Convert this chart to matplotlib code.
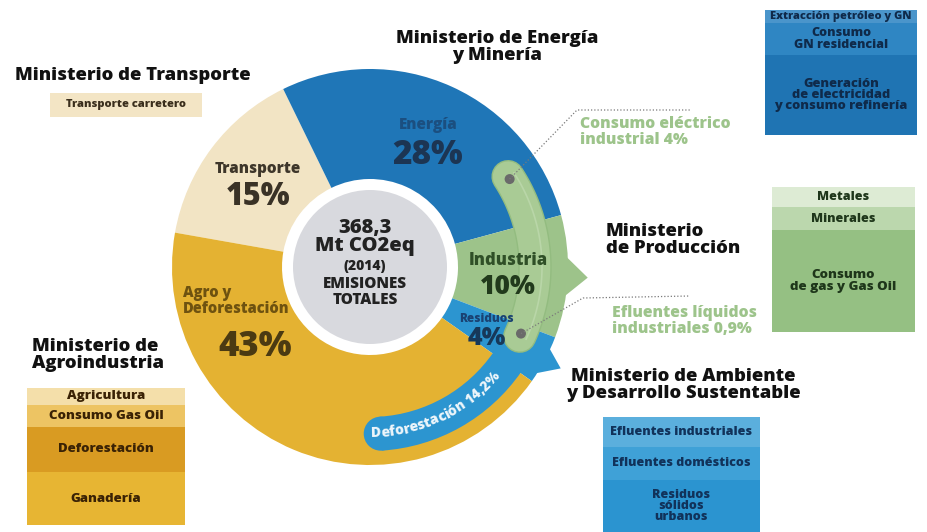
import matplotlib
matplotlib.use("Agg")
import matplotlib.pyplot as plt
import numpy as np
from matplotlib.patches import Circle, Polygon, Rectangle, Wedge
from matplotlib.font_manager import FontProperties

FONT = "Open Sans"
BW = 'heavy'
plt.rcParams['font.family'] = [FONT, 'DejaVu Sans']

# ---------------- data ----------------
sectors = ["Transporte", "Energía", "Industria", "Residuos", "Agro y\nDeforestación"]
shares = [15, 28, 10, 4, 43]
total_emissions = "368,3"
total_unit = "Mt CO2eq"
year = "(2014)"
deforestation_share = 14.2
consumo_electrico_industrial = 4
efluentes_liquidos_industriales = 0.9

ministries = ["Ministerio de Transporte", "Ministerio de Energía\ny Minería",
              "Ministerio\nde Producción", "Ministerio de Ambiente\ny Desarrollo Sustentable",
              "Ministerio de\nAgroindustria"]
transport_items = ["Transporte carretero"]
energy_items = ["Extracción petróleo y GN", "Consumo\nGN residencial",
                "Generación\nde electricidad\ny consumo refinería"]
production_items = ["Metales", "Minerales", "Consumo\nde gas y Gas Oil"]
agro_items = ["Agricultura", "Consumo Gas Oil", "Deforestación", "Ganadería"]
ambiente_items = ["Efluentes industriales", "Efluentes domésticos", "Residuos\nsólidos\nurbanos"]

# ---------------- styles ----------------
sector_colors = ['#F2E4C4', '#1F76B7', '#9DC38A', '#2C95D0', '#E4B232']
name_colors = ['#3E362A', '#1B4F80', '#2F4F27', '#1A4272', '#6E5210']
pct_colors = ['#3A3226', '#1C3553', '#213A1C', '#173859', '#4B3A12']

W, H = 927, 532
def Y(y):
    return H - y

fig = plt.figure(figsize=(W / 100, H / 100), dpi=100)
ax = fig.add_axes([0, 0, 1, 1])

CX, CY = 370, Y(267)
R_OUT, R_IN = 198, 88
START = 170

def pol(r, a_deg):
    a = np.radians(a_deg)
    return CX + r * np.cos(a), CY + r * np.sin(a)

# edges of sectors (clockwise from START)
fr = np.cumsum([0] + shares) / sum(shares)
edges = START - 360 * fr
mids = (edges[:-1] + edges[1:]) / 2

# decorative tabs (arrow points) behind the ring
def tab(a_lo, a_hi, a_tip, r_base, r_tip, color):
    pts = [pol(r_base, a_lo), pol(r_tip, a_tip), pol(r_base, a_hi)]
    ax.add_patch(Polygon(pts, closed=True, color=color, lw=0, zorder=1))

tab(mids[2] - 8, mids[2] + 8, mids[2], 190, 218, sector_colors[2])
tab(edges[4] + 0.5, edges[3] - 2, mids[3], 190, 216, sector_colors[3])

wedges, _ = ax.pie(shares, colors=sector_colors, startangle=START, counterclock=False,
                   radius=R_OUT, center=(CX, CY),
                   wedgeprops=dict(width=R_OUT - R_IN, linewidth=0), frame=True)
for w in wedges:
    w.set_zorder(2)

# center disc
ax.add_patch(Circle((CX, CY), 77, color='#D8D9DE', lw=0, zorder=3))
ckw = dict(ha='center', va='center', fontweight=BW, color='#222222', zorder=6)
ax.text(CX - 5, Y(237), total_emissions + "\n" + total_unit, fontsize=14.5,
        linespacing=0.8, **ckw)
ax.text(CX - 5, Y(266), year, fontsize=10, **ckw)
ax.text(CX - 5, Y(292), "EMISIONES\nTOTALES", fontsize=11, linespacing=0.95, **ckw)

# deforestation band inside Agro sector
band_end = edges[4]
band_start = band_end - 360 * deforestation_share / 100
band_col = sector_colors[3]
ax.add_patch(Wedge((CX, CY), 184, band_start, band_end + 0.5, width=34, color=band_col,
                   lw=0, zorder=4))
ax.add_patch(Circle(pol(167, band_start), 17, color=band_col, lw=0, zorder=4))

def curved_text(s, r, mid_deg, fontsize, color):
    fp = FontProperties(family=FONT, weight=BW, size=fontsize)
    renderer = fig.canvas.get_renderer()
    def wid(t):
        return renderer.get_text_width_height_descent(t, fp, ismath=False)[0]
    base = wid("xx")
    adv = [wid("x" + ch + "x") - base for ch in s]
    total = sum(adv)
    start = np.radians(mid_deg) - (total / r) / 2
    pos = 0.0
    for ch, a_w in zip(s, adv):
        c = pos + a_w / 2
        pos += a_w
        if ch == ' ':
            continue
        a = start + c / r
        ax.text(CX + r * np.cos(a), CY + r * np.sin(a), ch, fontproperties=fp,
                color=color, rotation=np.degrees(a) + 90, ha='center', va='center',
                rotation_mode='anchor', zorder=7)

band_label = "Deforestación " + f"{deforestation_share}".replace('.', ',') + "%"
curved_text(band_label, 166, (band_start + band_end) / 2 - 4, 10, '#EEF6FB')

# industry capsule overlay
a_top = edges[2] + 18
a_bot = edges[3] - 4
th = np.linspace(a_bot, a_top, 80)
xs = [pol(165, t)[0] for t in th]
ys = [pol(165, t)[1] for t in th]
ax.plot(xs, ys, color='#93BC80', lw=24, solid_capstyle='round', zorder=5)
ax.plot(xs, ys, color='#A9CB95', lw=22, solid_capstyle='round', zorder=5)
xs2 = [pol(172, t)[0] for t in th]
ys2 = [pol(172, t)[1] for t in th]
ax.plot(xs2, ys2, color='#B9D6A8', lw=1.2, zorder=5)
d_top = pol(165, a_top - 1)
d_bot = pol(165, a_bot + 1)
for d in (d_top, d_bot):
    ax.add_patch(Circle(d, 5, color='#6A6A6A', lw=0, zorder=6))

dot_style = dict(color='#7A7A7A', lw=0.9, linestyle=(0, (1, 1.6)), zorder=6)
ax.plot([d_top[0], 577, 690], [d_top[1], Y(110), Y(110)], **dot_style)
ax.plot([d_bot[0], 583, 690], [d_bot[1], Y(298), Y(296)], **dot_style)

green_note = '#9DC48B'
ax.text(580, Y(132), f"Consumo eléctrico\nindustrial {consumo_electrico_industrial}%",
        ha='left', va='center', fontsize=11.3, fontweight=BW, color=green_note,
        linespacing=1.0, zorder=6)
ax.text(612, Y(321), "Efluentes líquidos\nindustriales "
        + f"{efluentes_liquidos_industriales}".replace('.', ',') + "%",
        ha='left', va='center', fontsize=11.3, fontweight=BW, color=green_note,
        linespacing=1.0, zorder=6)

# sector labels
pct_text = [f"{v}%" for v in shares]
lab_r = [140, 140, 138, 132]
name_fs = [11, 11, 12, 8.5]
pct_fs = [22, 24, 19, 18]
gaps = [14, 15, 13, 10]
for i in range(4):
    x, y = pol(lab_r[i], mids[i])
    ax.text(x, y + gaps[i], sectors[i], ha='center', va='center', fontsize=name_fs[i],
            fontweight=BW, color=name_colors[i], zorder=6)
    ax.text(x, y - gaps[i], pct_text[i], ha='center', va='center', fontsize=pct_fs[i],
            fontweight=BW, color=pct_colors[i], zorder=6)
ax_x, ax_y = pol(140, 215)
ax.text(ax_x, ax_y, pct_text[4], ha='center', va='center', fontsize=25,
        fontweight=BW, color=pct_colors[4], zorder=6)
ax.text(ax_x - 72, ax_y + 46, sectors[4], ha='left', va='center', fontsize=10.5,
        fontweight=BW, color=name_colors[4], linespacing=1.0, zorder=6)

# ministry titles
tkw = dict(fontsize=13.3, fontweight=BW, color='#111111', linespacing=1.02, zorder=6)
ax.text(15, Y(75), ministries[0], ha='left', va='center', **tkw)
ax.text(497, Y(47), ministries[1], ha='center', va='center', **tkw)
ax.text(606, Y(240), ministries[2], ha='left', va='center', **tkw)
ax.text(683, Y(385), ministries[3], ha='center', va='center', **tkw)
ax.text(32, Y(355), ministries[4], ha='left', va='center', **tkw)

# side boxes
def draw_box(x0, x1, rows, colors, labels, sizes, tcolor):
    for k, lab in enumerate(labels):
        ya, yb = rows[k], rows[k + 1]
        ax.add_patch(Rectangle((x0, Y(yb)), x1 - x0, yb - ya, color=colors[k], lw=0, zorder=2))
        ax.text((x0 + x1) / 2, Y((ya + yb) / 2), lab, ha='center', va='center', fontsize=sizes[k],
                fontweight=BW, color=tcolor, linespacing=0.92, zorder=3)

draw_box(50, 202, [93, 117], ['#F3E5C5'], transport_items, [8], '#3A2E1C')
draw_box(765, 917, [10, 23, 55, 135], ['#4A95CB', '#2F86C3', '#1F74B3'], energy_items,
         [7.9, 9, 9.3], '#0F2A4A')
draw_box(772, 915, [187, 207, 230, 332], ['#DDEBD4', '#BBD7AD', '#95C083'], production_items,
         [9, 9, 9.5], '#1E361A')
draw_box(27, 185, [388, 405, 427, 472, 525], ['#F4DFAA', '#EDC463', '#D99B22', '#E7B533'],
         agro_items, [9.5, 9.5, 9.5, 9.5], '#3A2205')
draw_box(603, 760, [417, 447, 480, 532], ['#5BAFDD', '#3FA1D7', '#2B94D0'], ambiente_items,
         [9, 9, 9], '#11325A')

ax.set_xlim(0, W)
ax.set_ylim(0, H)
ax.set_aspect('equal')
ax.axis('off')
fig.savefig("out.png", dpi=100)
